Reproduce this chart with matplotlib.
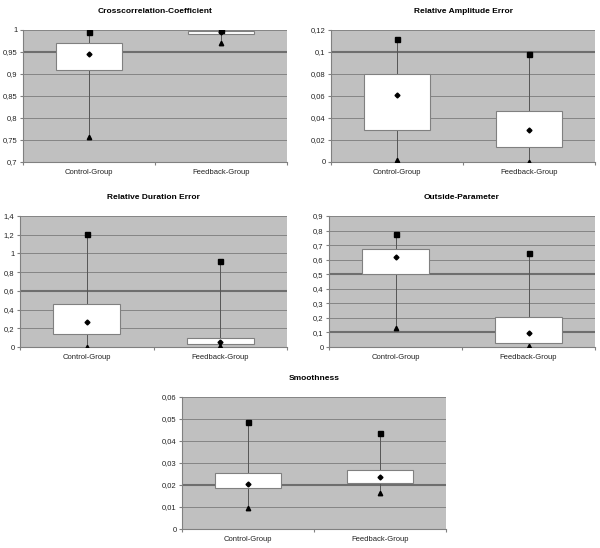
import matplotlib
matplotlib.use("Agg")
import matplotlib.pyplot as plt
import numpy as np
from matplotlib.ticker import FuncFormatter

plt.rcParams["font.family"] = ["Liberation Sans", "DejaVu Sans"]

groups = ["Control-Group", "Feedback-Group"]

titles = [
    "Crosscorrelation-Coefficient",
    "Relative Amplitude Error",
    "Relative Duration Error",
    "Outside-Parameter",
    "Smoothness",
]

# per panel: [control, feedback]
max_vals = [[0.995, 0.999], [0.112, 0.098], [1.21, 0.92], [0.778, 0.645], [0.0486, 0.0436]]
upper_vals = [[0.970, 0.997], [0.080, 0.0465], [0.46, 0.093], [0.676, 0.203], [0.0254, 0.0268]]
mean_vals = [[0.945, 0.995], [0.0605, 0.029], [0.27, 0.057], [0.619, 0.098], [0.0206, 0.0235]]
lower_vals = [[0.908, 0.991], [0.0295, 0.0133], [0.138, 0.032], [0.500, 0.030], [0.0188, 0.0211]]
min_vals = [[0.757, 0.971], [0.002, 0.0003], [0.005, 0.008], [0.128, 0.005], [0.0096, 0.0165]]

y_ranges = [(0.7, 1.0, 0.05), (0.0, 0.12, 0.02), (0.0, 1.4, 0.2), (0.0, 0.9, 0.1), (0.0, 0.06, 0.01)]
# gridlines that look heavier in the scanned original
heavy_grid = [[0.95], [0.1], [0.6], [0.5, 0.1], [0.02]]

# axes rectangles in pixels: left, top, width, height (figure 600x548)
rects_px = [
    (23, 30, 264, 132),
    (331, 30, 264, 132),
    (20, 216, 267, 131),
    (329, 216, 266, 131),
    (182, 397, 264, 132),
]

W, H = 600, 548


def comma_fmt(v, pos):
    s = "%g" % round(v, 6)
    return s.replace(".", ",")


fig = plt.figure(figsize=(W / 100, H / 100), dpi=100)

for i, title in enumerate(titles):
    l, t, w, h = rects_px[i]
    ax = fig.add_axes([l / W, (H - t - h) / H, w / W, h / H])
    ax.set_facecolor("#c0c0c0")

    lo, hi, step = y_ranges[i]
    ticks = np.round(np.arange(lo, hi + step / 2, step), 6)
    ax.set_ylim(lo, hi)
    ax.set_yticks(ticks)
    ax.yaxis.set_major_formatter(FuncFormatter(comma_fmt))
    for y in ticks:
        heavy = any(abs(y - g) < 1e-9 for g in heavy_grid[i])
        ax.axhline(y, color="#6e6e6e" if heavy else "#858585",
                   lw=1.5 if heavy else 0.7, zorder=1)

    x = np.arange(len(groups))
    ax.vlines(x, min_vals[i], max_vals[i], color="#555555", lw=0.7, zorder=2)
    ax.bar(x, np.array(upper_vals[i]) - np.array(lower_vals[i]), bottom=lower_vals[i],
           width=0.5, color="white", edgecolor="#808080", lw=0.8, zorder=3)
    ax.plot(x, max_vals[i], "s", color="black", ms=3.6, zorder=4)
    ax.plot(x, mean_vals[i], "D", color="black", ms=2.5, zorder=4)
    ax.plot(x, min_vals[i], "^", color="black", ms=3.2, zorder=4)

    ax.set_xlim(-0.5, 1.5)
    ax.set_xticks([-0.5, 0.5, 1.5])
    ax.set_xticklabels([])
    ax.set_xticks(x, minor=True)
    ax.set_xticklabels(groups, minor=True)
    ax.tick_params(axis="x", which="minor", length=0, labelsize=5.5, pad=5, colors="#222222")
    ax.tick_params(axis="x", which="major", length=2, color="#808080")
    ax.tick_params(axis="y", length=2, labelsize=5.5, pad=2, color="#808080", labelcolor="#222222")

    for side in ["top", "right"]:
        ax.spines[side].set_visible(False)
    for side in ["left", "bottom"]:
        ax.spines[side].set_color("#808080")
        ax.spines[side].set_linewidth(0.8)

    ax.set_title(title, fontsize=6, fontweight="bold", pad=12)

fig.savefig("out.png", dpi=100)
